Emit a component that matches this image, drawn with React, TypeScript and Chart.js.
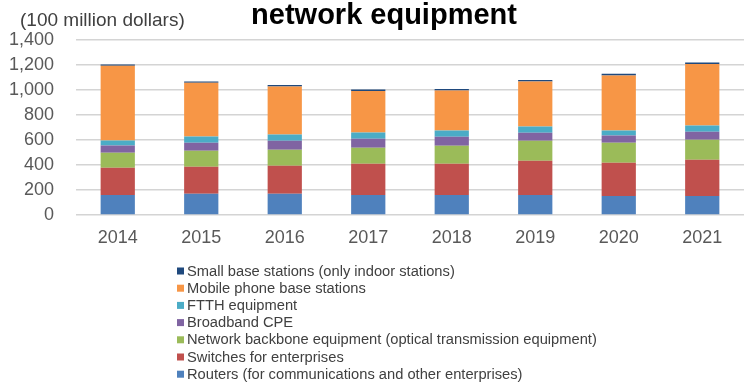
import React, { useEffect, useRef } from "react";
import { Chart, registerables } from "chart.js";

Chart.register(...registerables);

// Market size by equipment type, in units of 100 million dollars
const years = ["2014", "2015", "2016", "2017", "2018", "2019", "2020", "2021"];
const routers = [160, 171, 171, 160, 160, 160, 152, 152];
const switches = [219, 216, 224, 251, 251, 275, 267, 291];
const backbone = [120, 128, 128, 128, 144, 160, 160, 160];
const broadbandCpe = [58, 64, 72, 72, 72, 64, 58, 64];
const ftth = [40, 50, 50, 50, 50, 50, 40, 50];
const mobileBase = [597, 430, 384, 331, 320, 360, 440, 491];
const smallBase = [10, 10, 11, 13, 11, 11, 14, 13];

const seriesNames = [
  "Routers (for communications and other enterprises)",
  "Switches for enterprises",
  "Network backbone equipment (optical transmission equipment)",
  "Broadband CPE",
  "FTTH equipment",
  "Mobile phone base stations",
  "Small base stations (only indoor stations)",
];
const seriesValues = [routers, switches, backbone, broadbandCpe, ftth, mobileBase, smallBase];
const seriesColors = ["#4F81BD", "#C0504D", "#9BBB59", "#8064A2", "#4BACC6", "#F79646", "#1F497D"];

const yTicks = [0, 200, 400, 600, 800, 1000, 1200, 1400];

const FONT = "'Liberation Sans', Arial, sans-serif";

// Draws the heading, the unit label and the single-column legend
const decorations = {
  id: "decorations",
  afterDraw(chart: any) {
    const ctx = chart.ctx;
    ctx.save();
    ctx.fillStyle = "#000000";
    ctx.font = `bold 29px ${FONT}`;
    ctx.textAlign = "center";
    ctx.textBaseline = "alphabetic";
    ctx.fillText("network equipment", 384, 24);

    ctx.fillStyle = "#404040";
    ctx.font = `19px ${FONT}`;
    ctx.textAlign = "left";
    ctx.fillText("(100 million dollars)", 20, 26);

    ctx.font = `14.7px ${FONT}`;
    ctx.textBaseline = "middle";
    const items = chart.data.datasets.map((d: any, i: number) => ({ label: d.label, color: d.backgroundColor, i }));
    items.reverse().forEach((it: any, row: number) => {
      const y = 271 + row * 17.2;
      ctx.fillStyle = it.color;
      ctx.fillRect(177, y - 3.5, 7, 7);
      ctx.fillStyle = "#404040";
      ctx.fillText(it.label, 187, y + 0.5);
    });
    ctx.restore();
  },
};

export default function App() {
  const canvasRef = useRef<HTMLCanvasElement | null>(null);

  useEffect(() => {
    document.body.style.margin = "0";
    const canvas = canvasRef.current;
    if (!canvas) return;
    const chart = new Chart(canvas, {
      type: "bar",
      data: {
        labels: years,
        datasets: seriesNames.map((name, i) => ({
          label: name,
          data: seriesValues[i],
          backgroundColor: seriesColors[i],
          borderWidth: 0,
          barPercentage: 0.41,
          categoryPercentage: 1,
        })),
      },
      options: {
        animation: false,
        responsive: false,
        maintainAspectRatio: false,
        layout: { padding: { top: 40, left: 0, right: 0, bottom: 0 } },
        plugins: {
          legend: { display: false },
          title: { display: false },
          tooltip: { enabled: false },
        },
        scales: {
          x: {
            stacked: true,
            grid: { display: false, drawTicks: false },
            border: { display: false },
            ticks: {
              color: "#595959",
              font: { family: FONT, size: 18 },
              padding: 12,
            },
            afterFit: (s: any) => {
              s.height = 168;
            },
          },
          y: {
            stacked: true,
            min: 0,
            max: 1400,
            afterBuildTicks: (s: any) => {
              s.ticks = yTicks.map((v) => ({ value: v }));
            },
            grid: { color: "#d4d4d4", lineWidth: 1.5, drawTicks: false },
            border: { display: false },
            ticks: {
              color: "#595959",
              font: { family: FONT, size: 18 },
              padding: 22,
              callback: (v: any) => Number(v).toLocaleString("en-US"),
            },
            afterFit: (s: any) => {
              s.width = 76;
            },
          },
        },
      },
      plugins: [decorations],
    });
    return () => chart.destroy();
  }, []);

  return (
    <div style={{ position: "absolute", left: 0, top: 0, width: 744, height: 383, background: "#ffffff" }}>
      <canvas ref={canvasRef} width={744} height={383} style={{ width: 744, height: 383 }} />
    </div>
  );
}
